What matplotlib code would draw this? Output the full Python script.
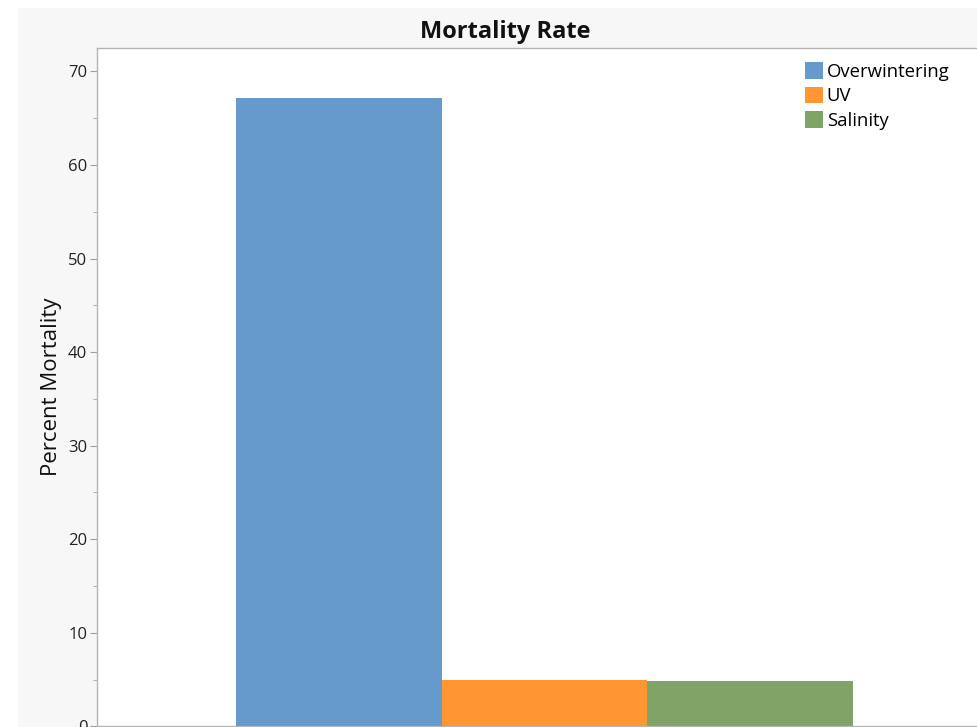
import matplotlib
matplotlib.use("Agg")
import matplotlib.pyplot as plt
from matplotlib.patches import Rectangle, Patch
from matplotlib.ticker import MultipleLocator

categories = ["Overwintering", "UV", "Salinity"]
values = [67.2, 5.0, 4.8]
colors = ["#6699cc", "#ff9632", "#80a467"]

plt.rcParams['font.family'] = ['Open Sans', 'DejaVu Sans']

W, H = 978, 727
fig = plt.figure(figsize=(W/100, H/100), dpi=100, facecolor="white")
fig.patches.append(Rectangle((18/W, 0), 1, 1 - 8/H, transform=fig.transFigure,
                             facecolor="#f7f7f7", edgecolor="none", zorder=-10))

left, top, bottom = 97/W, 48/H, 0.6/H
ax = fig.add_axes([left, bottom, 1.0 - left, 1 - top - bottom])
ax.set_facecolor("white")

x = list(range(len(categories)))
bars = ax.bar(x, values, width=1.0, color=colors, label=categories, zorder=2)

ax.set_xlim(-1.176, 3.108)
ax.set_ylim(0, 72.5)
ax.yaxis.set_major_locator(MultipleLocator(10))
ax.yaxis.set_minor_locator(MultipleLocator(5))
ax.set_xticks([])
ax.spines["right"].set_visible(False)
for s in ["left", "top", "bottom"]:
    ax.spines[s].set_color("#b4b4b4")
    ax.spines[s].set_linewidth(1.0)
ax.tick_params(axis="y", which="major", length=5, color="#a0a0a0", labelsize=12, labelcolor="#222222", pad=2)
ax.tick_params(axis="y", which="minor", length=3, color="#a0a0a0")

ax.set_ylabel("Percent Mortality", fontsize=16, color="#111111", labelpad=4)
fig.text(505/W, 1 - 32/H, "Mortality Rate", ha="center", va="center",
         fontsize=17, fontweight="bold", color="#111111")

handles = [Patch(facecolor=c, edgecolor="none") for c in colors]
leg = ax.legend(handles, categories, loc="upper right", bbox_to_anchor=(957/W, 1 - 55/H),
                bbox_transform=fig.transFigure, frameon=False, fontsize=13.3,
                handlelength=1.0, handleheight=1.0, handletextpad=0.2,
                labelspacing=0.32, borderaxespad=0)

fig.savefig("out.png", dpi=100, facecolor=fig.get_facecolor())
